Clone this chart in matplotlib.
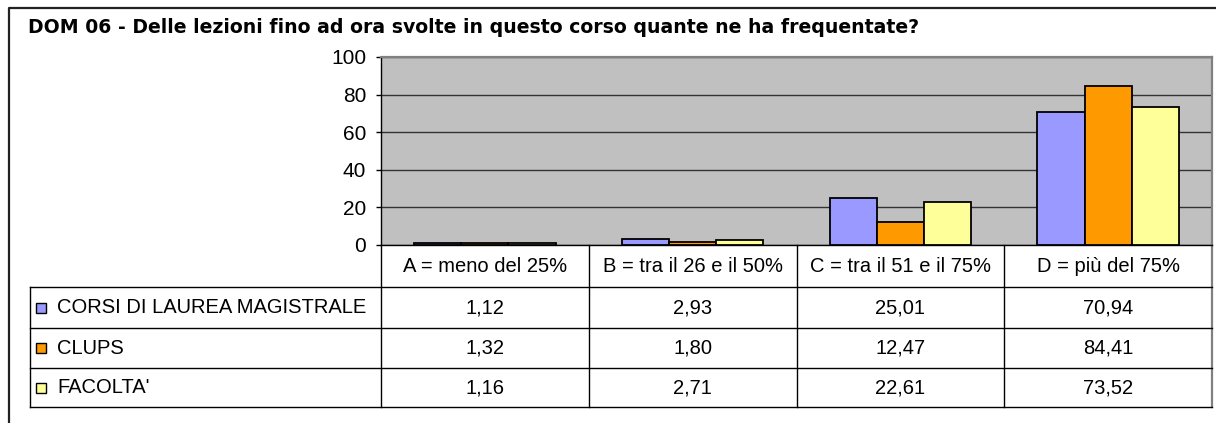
import matplotlib
matplotlib.use('Agg')
from matplotlib import pyplot as plt
from matplotlib.patches import Rectangle
from matplotlib.lines import Line2D
from matplotlib.transforms import blended_transform_factory
import numpy as np

plt.rcParams['font.family'] = ['Liberation Sans', 'DejaVu Sans']

title = "DOM 06 - Delle lezioni fino ad ora svolte in questo corso quante ne ha frequentate?"
categories = ["A = meno del 25%", "B = tra il 26 e il 50%", "C = tra il 51 e il 75%", "D = più del 75%"]
series = ["CORSI DI LAUREA MAGISTRALE", "CLUPS", "FACOLTA'"]
magistrale = [1.12, 2.93, 25.01, 70.94]
clups = [1.32, 1.80, 12.47, 84.41]
facolta = [1.16, 2.71, 22.61, 73.52]
colors = ['#9999FF', '#FF9900', '#FFFF99']

W, H = 1216, 423
fig = plt.figure(figsize=(W / 100, H / 100), dpi=100)

def fx(px):
    return px / W

def fy(py):
    return 1 - py / H

# outer frame (top and left only, the rest is cut off)
fig.add_artist(Line2D([fx(9), fx(9), fx(W)], [fy(H), fy(8), fy(8)],
                      transform=fig.transFigure, color='#222222', lw=1.6))
fig.text(fx(28), fy(33), title, fontsize=13.6, fontweight='bold', va='baseline', ha='left',
         family=['DejaVu Sans'])

ax_l, ax_r, ax_t, ax_b = 381, 1212, 57, 245
ax = fig.add_axes([fx(ax_l), fy(ax_b), fx(ax_r - ax_l), (ax_b - ax_t) / H])
ax.set_facecolor('#C0C0C0')

x = np.arange(len(categories))
bw = 0.227
for i, (vals, c) in enumerate(zip([magistrale, clups, facolta], colors)):
    ax.bar(x + (i - 1) * bw, vals, bw, color=c, edgecolor='black', linewidth=1.3, zorder=3)

ax.set_xlim(-0.5, len(categories) - 0.5)
ax.set_ylim(0, 100)
ax.set_yticks(range(0, 101, 20))
ax.set_xticks([])
ax.yaxis.grid(True, color='#333333', lw=1.0, zorder=1)
ax.set_axisbelow(True)
ax.tick_params(axis='y', direction='out', length=3.6, width=1, labelsize=15, pad=7)
for s in ['top', 'right']:
    ax.spines[s].set_color('#808080')
    ax.spines[s].set_linewidth(1.6)
for s in ['left', 'bottom']:
    ax.spines[s].set_color('black')
    ax.spines[s].set_linewidth(1.0)

# data table below the plot
row_lines = [245, 287, 328, 368, 407]
tab_l = 30
fs = 14.5

def ay(py):
    return (ax_b - py) / (ax_b - ax_t)

tr = blended_transform_factory(ax.transData, ax.transAxes)
for b in np.arange(len(categories) + 1) - 0.5:
    col = '#808080' if b == len(categories) - 0.5 else 'black'
    ax.add_line(Line2D([b, b], [0, ay(row_lines[-1])], transform=tr, color=col,
                       lw=1.6 if col == '#808080' else 1.0, clip_on=False))
for py in row_lines[1:]:
    fig.add_artist(Line2D([fx(tab_l), fx(ax_r)], [fy(py), fy(py)],
                          transform=fig.transFigure, color='black', lw=1.0))
fig.add_artist(Line2D([fx(tab_l), fx(tab_l)], [fy(row_lines[1]), fy(row_lines[-1])],
                      transform=fig.transFigure, color='black', lw=1.0))

centers = [(row_lines[k] + row_lines[k + 1]) / 2 for k in range(len(row_lines) - 1)]
for xi, cat in zip(x, categories):
    ax.text(xi, ay(centers[0]), cat, transform=tr, ha='center', va='center', fontsize=fs)
for r, (name, vals, c) in enumerate(zip(series, [magistrale, clups, facolta], colors)):
    cy = centers[r + 1]
    for xi, v in zip(x, vals):
        ax.text(xi, ay(cy), f"{v:.2f}".replace('.', ','), transform=tr,
                ha='center', va='center', fontsize=fs)
    fig.add_artist(Rectangle((fx(35.5), fy(cy + 5)), fx(10), 10 / H, transform=fig.transFigure,
                             facecolor=c, edgecolor='black', lw=1.0))
    fig.text(fx(57), fy(cy), name, fontsize=fs, va='center', ha='left')

fig.savefig('out.png', dpi=100)
